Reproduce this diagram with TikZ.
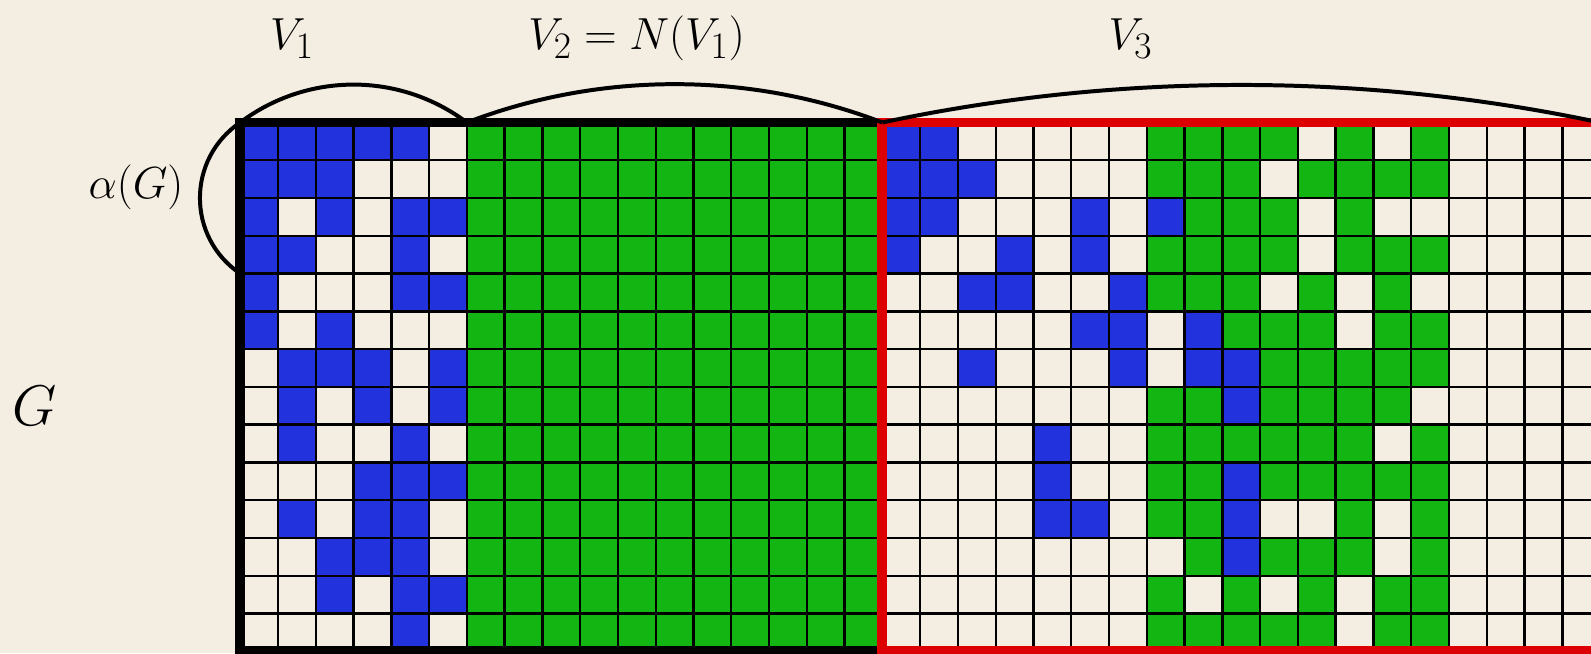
\documentclass[tikz,border=0pt]{standalone}
\usepackage{xcolor}
\definecolor{paper}{RGB}{243,237,226}
\definecolor{cellw}{RGB}{243,237,226}
\definecolor{cellb}{RGB}{34,51,221}
\definecolor{cellg}{RGB}{19,181,19}
\definecolor{redline}{RGB}{221,0,0}
\newcommand{\cellrow}[3]{% row, cells of V1, cells of V3 (b blue, g green, w empty)
  \foreach \cl [count=\i from 0] in {#2}{\fill[fill=cell\cl] (\i,-#1) rectangle ++(1,-1);}
  \foreach \cl [count=\i from 17] in {#3}{\fill[fill=cell\cl] (\i,-#1) rectangle ++(1,-1);}
}

\begin{document}
\begin{tikzpicture}[x=1cm,y=1cm,
  lab/.style={anchor=base,font=\Huge,scale=1.36},
  brace/.style={line width=3pt}]
  \fill[paper] (-6.36,-14.045) rectangle (35.76,3.243);
  \useasboundingbox (-6.36,-14.045) rectangle (35.76,3.243);
  % V2 = N(V1) is all green
  \fill[cellg] (6,0) rectangle (17,-14);
  \cellrow{0}{b,b,b,b,b,w}{b,b,w,w,w,w,w,g,g,g,g,w,g,w,g}
  \cellrow{1}{b,b,b,w,w,w}{b,b,b,w,w,w,w,g,g,g,w,g,g,g,g}
  \cellrow{2}{b,w,b,w,b,b}{b,b,w,w,w,b,w,b,g,g,g,w,g,w,w}
  \cellrow{3}{b,b,w,w,b,w}{b,w,w,b,w,b,w,g,g,g,g,w,g,g,g}
  \cellrow{4}{b,w,w,w,b,b}{w,w,b,b,w,w,b,g,g,g,w,g,w,g,w}
  \cellrow{5}{b,w,b,w,w,w}{w,w,w,w,w,b,b,w,b,g,g,g,w,g,g}
  \cellrow{6}{w,b,b,b,w,b}{w,w,b,w,w,w,b,w,b,b,g,g,g,g,g}
  \cellrow{7}{w,b,w,b,w,b}{w,w,w,w,w,w,w,g,g,b,g,g,g,g,w}
  \cellrow{8}{w,b,w,w,b,w}{w,w,w,w,b,w,w,g,g,g,g,g,g,w,g}
  \cellrow{9}{w,w,w,b,b,b}{w,w,w,w,b,w,w,g,g,b,g,g,g,g,g}
  \cellrow{10}{w,b,w,b,b,w}{w,w,w,w,b,b,w,g,g,b,w,w,g,w,g}
  \cellrow{11}{w,w,b,b,b,w}{w,w,w,w,w,w,w,w,g,b,g,g,g,w,g}
  \cellrow{12}{w,w,b,w,b,b}{w,w,w,w,w,w,w,g,w,g,w,g,w,g,g}
  \cellrow{13}{w,w,w,w,b,w}{w,w,w,w,w,w,w,g,g,g,g,g,w,g,g}
  \draw[line width=1.8pt] (0,0) grid (36,-14);
  \draw[line width=7.5pt] (0,0) rectangle (17,-14);
  \draw[line width=7.5pt,redline] (17,0) rectangle (36,-14);
  % corners the braces hang from
  \coordinate (c0) at (0,0);
  \coordinate (c6) at (6,0);
  \coordinate (c17) at (17,0);
  \coordinate (c36) at (36,0);
  \coordinate (r4) at (0,-4);
  \draw[brace] (c0) to[out=37,in=143,looseness=0.95] (c6);
  \draw[brace] (c6) to[out=21,in=159,looseness=0.88] (c17);
  \draw[brace] (c17) to[out=12,in=168,looseness=0.86] (c36);
  \draw[brace] (c0) to[out=214,in=146,looseness=1.1] (r4);
  \node[lab] (v1) at (1.37,1.93) {$V_1$};
  \node[lab] (v2) at (10.49,1.93) {$V_2=N(V_1)$};
  \node[lab] (v3) at (23.57,1.93) {$V_3$};
  \node[lab] (alpha) at (-2.76,-2.01) {$\alpha(G)$};
  \node[lab,scale=1.276] (g) at (-5.45,-8.01) {$G$};
\end{tikzpicture}
\end{document}
